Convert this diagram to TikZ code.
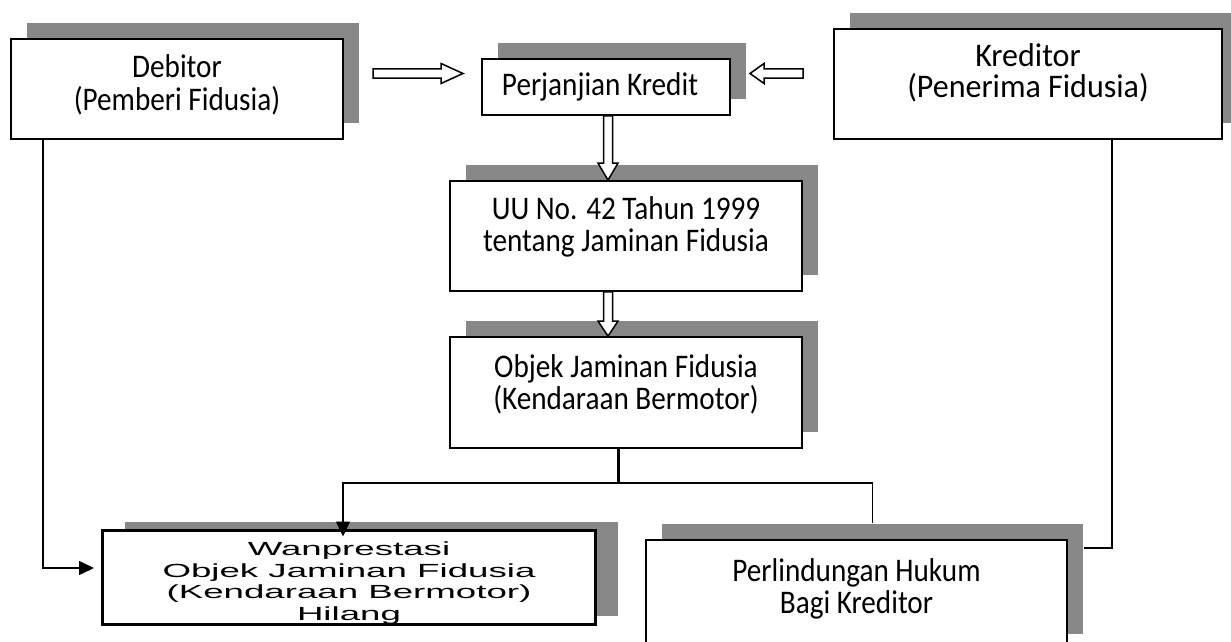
\documentclass[tikz,border=0pt]{standalone}
\usepackage{fontspec}
\usetikzlibrary{calc,shadows,arrows.meta,positioning}
\newfontfamily\boxfont[FakeStretch=0.885]{Carlito}
\newfontfamily\krfont[FakeStretch=0.97]{Carlito}
\newfontfamily\widefont[FakeStretch=1.93]{Liberation Sans}
\definecolor{shadowgray}{RGB}{135,135,135}

\tikzset{
  fat/.style={line width=1.5pt, draw=black, fill=white, to path={
    ($(\tikztostart)!4.5pt!90:(\tikztotarget)$)
    -- ($($(\tikztotarget)!#1!(\tikztostart)$)!4.5pt!90:(\tikztotarget)$)
    -- ($($(\tikztotarget)!#1!(\tikztostart)$)!10pt!90:(\tikztotarget)$)
    -- (\tikztotarget)
    -- ($($(\tikztotarget)!#1!(\tikztostart)$)!10pt!-90:(\tikztotarget)$)
    -- ($($(\tikztotarget)!#1!(\tikztostart)$)!4.5pt!-90:(\tikztotarget)$)
    -- ($(\tikztostart)!4.5pt!-90:(\tikztotarget)$)
    -- cycle}}
}

\begin{document}
\begin{tikzpicture}[x=1pt, y=-1pt,
  boxbase/.style={rectangle, draw=black, fill=white, line width=1.8pt, inner sep=0pt},
  box/.style={boxbase, drop shadow={shadow xshift=16pt, shadow yshift=16pt, fill=shadowgray, opacity=1}},
  wanbox/.style={boxbase, line width=3pt, drop shadow={shadow xshift=22pt, shadow yshift=9pt, fill=shadowgray, opacity=1}},
  txt/.style={align=center, inner sep=0pt, font=\boxfont\fontsize{33}{32.5}\selectfont},
  link/.style={line width=1.5pt},
  thicklink/.style={line width=3pt},
  headarrow/.style={-{Triangle[length=15pt,width=14pt]}}
]
  \useasboundingbox (0,0) rectangle (1231,642);
  \clip (0,0) rectangle (1231,642);

  % boxes
  \node[box, minimum width=332pt, minimum height=100pt] (deb) at (177,89) {};
  \node[box, minimum width=248pt, minimum height=56pt] (pk) at (606,87) {};
  \node[box, minimum width=388pt, minimum height=110pt] (kr) at (1028,84) {};
  \node[box, minimum width=352pt, minimum height=110pt] (uu) at (626,236) {};
  \node[box, minimum width=352pt, minimum height=111pt] (ob) at (626,392.5) {};
  \node[wanbox, minimum width=493pt, minimum height=94pt] (wan) at (349,577.5) {};
  \node[box, minimum width=421pt, minimum height=110pt] (pl) at (856.5,595) {};

  % texts
  \node[txt] (debtext) at ([yshift=4pt]deb.center) {Debitor\\(Pemberi Fidusia)};
  \node[txt] (pktext) at ([xshift=-6pt]pk.center) {Perjanjian Kredit};
  \node[txt, font=\krfont\fontsize{33}{31}\selectfont] (krtext) at ([yshift=11pt]kr.center) {Kreditor\\(Penerima Fidusia)};
  \node[txt] (uutext) at ([yshift=9pt]uu.center) {UU No. 42 Tahun 1999\\tentang Jaminan Fidusia};
  \node[txt] (obtext) at ([yshift=8pt]ob.center) {Objek Jaminan Fidusia\\(Kendaraan Bermotor)};
  \node[txt] (pltext) at ([yshift=6pt]pl.center) {Perlindungan Hukum\\Bagi Kreditor};
  \begin{scope}
    \clip (wan.north west) rectangle (wan.south east);
    \node[align=center, inner sep=0pt, anchor=north, font=\widefont\fontsize{19}{21.7}\selectfont] (wantext) at (349,541.5)
      {Wanprestasi\\Objek Jaminan Fidusia\\(Kendaraan Bermotor)\\Hilang};
  \end{scope}

  % hollow arrows
  \coordinate (a1s) at (373,73.5);
  \coordinate (a1e) at (463,73.5);
  \coordinate (a2s) at (803,73.5);
  \coordinate (a2e) at (750,73.5);
  \coordinate (a3s) at ([xshift=2pt]pk.south);
  \coordinate (a3e) at ([xshift=-18pt]uu.north);
  \coordinate (a4s) at ([xshift=-18pt]uu.south);
  \coordinate (a4e) at ([xshift=-18pt]ob.north);
  \draw[fat=22pt] (a1s) to (a1e);
  \draw[fat=14pt] (a2s) to (a2e);
  \draw[fat=17pt] (a3s) to (a3e);
  \draw[fat=15pt] (a4s) to (a4e);

  % lines
  \draw[link, headarrow] ([xshift=33pt]deb.south west) |- ([xshift=-7pt, yshift=9.5pt]wan.west);
  \draw[thicklink] ([xshift=-8pt]ob.south) -- ++(0,34) coordinate (bus);
  \draw[link, headarrow] (bus) -| ([xshift=-6pt, yshift=-7.5pt]wan.north);
  \draw[link] (bus) -| ([xshift=16pt, yshift=16pt]pl.north);
  \draw[link] ([xshift=84pt]kr.south) |- ([xshift=16pt, yshift=-9pt]pl.north east);
\end{tikzpicture}
\end{document}
